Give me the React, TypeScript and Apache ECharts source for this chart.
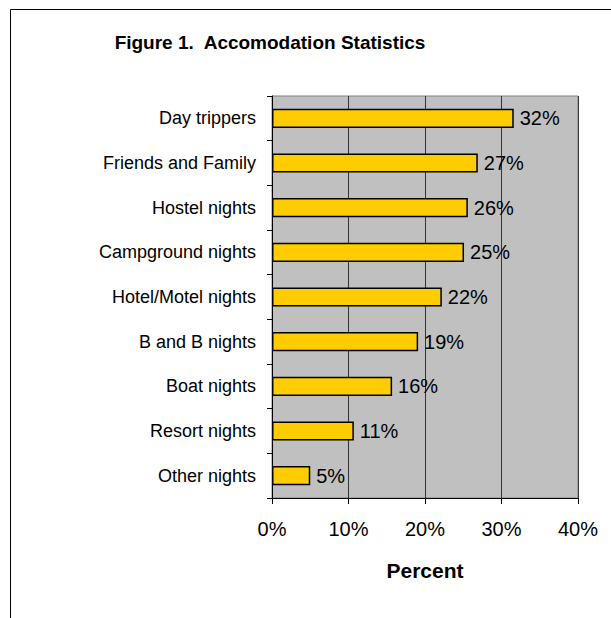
import React, { useEffect, useRef } from "react";
import * as echarts from "echarts";

const categories = [
  "Day trippers",
  "Friends and Family",
  "Hostel nights",
  "Campground nights",
  "Hotel/Motel nights",
  "B and B nights",
  "Boat nights",
  "Resort nights",
  "Other nights",
];
const values = [31.6, 26.9, 25.6, 25.1, 22.2, 19.1, 15.7, 10.7, 5.0];
const valueLabels = ["32%", "27%", "26%", "25%", "22%", "19%", "16%", "11%", "5%"];
const titleText = "Figure 1.  Accomodation Statistics";
const axisName = "Percent";

const FONT = "Liberation Sans, Arial, sans-serif";

export default function App() {
  const ref = useRef<HTMLDivElement>(null);
  useEffect(() => {
    if (!ref.current) return;
    const chart = echarts.init(ref.current, null, { renderer: "svg" });
    chart.setOption({
      animation: false,
      backgroundColor: "#ffffff",
      textStyle: { fontFamily: FONT, color: "#000" },
      graphic: [
        {
          type: "rect",
          shape: { x: 10.5, y: 9.5, width: 1000, height: 1000 },
          style: { fill: "none", stroke: "#000", lineWidth: 1 },
          silent: true,
          z: -1,
        },
        {
          type: "text",
          x: 270,
          y: 42,
          style: {
            text: titleText,
            font: "bold 19px " + FONT,
            fill: "#000",
            align: "center",
            verticalAlign: "middle",
          },
        },
      ],
      grid: {
        left: 272,
        top: 96,
        right: 33,
        bottom: 120,
        show: true,
        backgroundColor: "#c0c0c0",
        borderColor: "#808080",
        borderWidth: 1,
      },
      xAxis: {
        type: "value",
        min: 0,
        max: 40,
        interval: 10,
        name: axisName,
        nameLocation: "middle",
        nameGap: 62,
        nameTextStyle: { fontFamily: FONT, fontWeight: "bold", fontSize: 21, color: "#000" },
        axisLine: { show: true, lineStyle: { color: "#000", width: 1 } },
        axisTick: { show: true, length: 6, lineStyle: { color: "#000" } },
        axisLabel: {
          formatter: (v: number) => v + "%",
          fontFamily: FONT,
          fontSize: 20,
          color: "#000",
          margin: 21,
        },
        splitLine: { show: true, lineStyle: { color: "#333", width: 1 } },
      },
      yAxis: {
        type: "category",
        data: categories,
        inverse: true,
        axisLine: { show: true, lineStyle: { color: "#000", width: 1 } },
        axisTick: { show: true, length: 5, lineStyle: { color: "#000" } },
        axisLabel: { fontFamily: FONT, fontSize: 18, color: "#000", margin: 16 },
        splitLine: { show: false },
      },
      series: [
        {
          type: "bar",
          data: values,
          barCategoryGap: "57%",
          itemStyle: { color: "#FFCC00", borderColor: "#000", borderWidth: 1.5 },
          label: {
            show: true,
            position: "right",
            distance: 6,
            fontFamily: FONT,
            fontSize: 20,
            color: "#000",
            formatter: (p: any) => valueLabels[p.dataIndex],
          },
        },
      ],
    });
    return () => chart.dispose();
  }, []);
  return (
    <div
      ref={ref}
      style={{ position: "fixed", left: 0, top: 0, width: 611, height: 618 }}
    />
  );
}
